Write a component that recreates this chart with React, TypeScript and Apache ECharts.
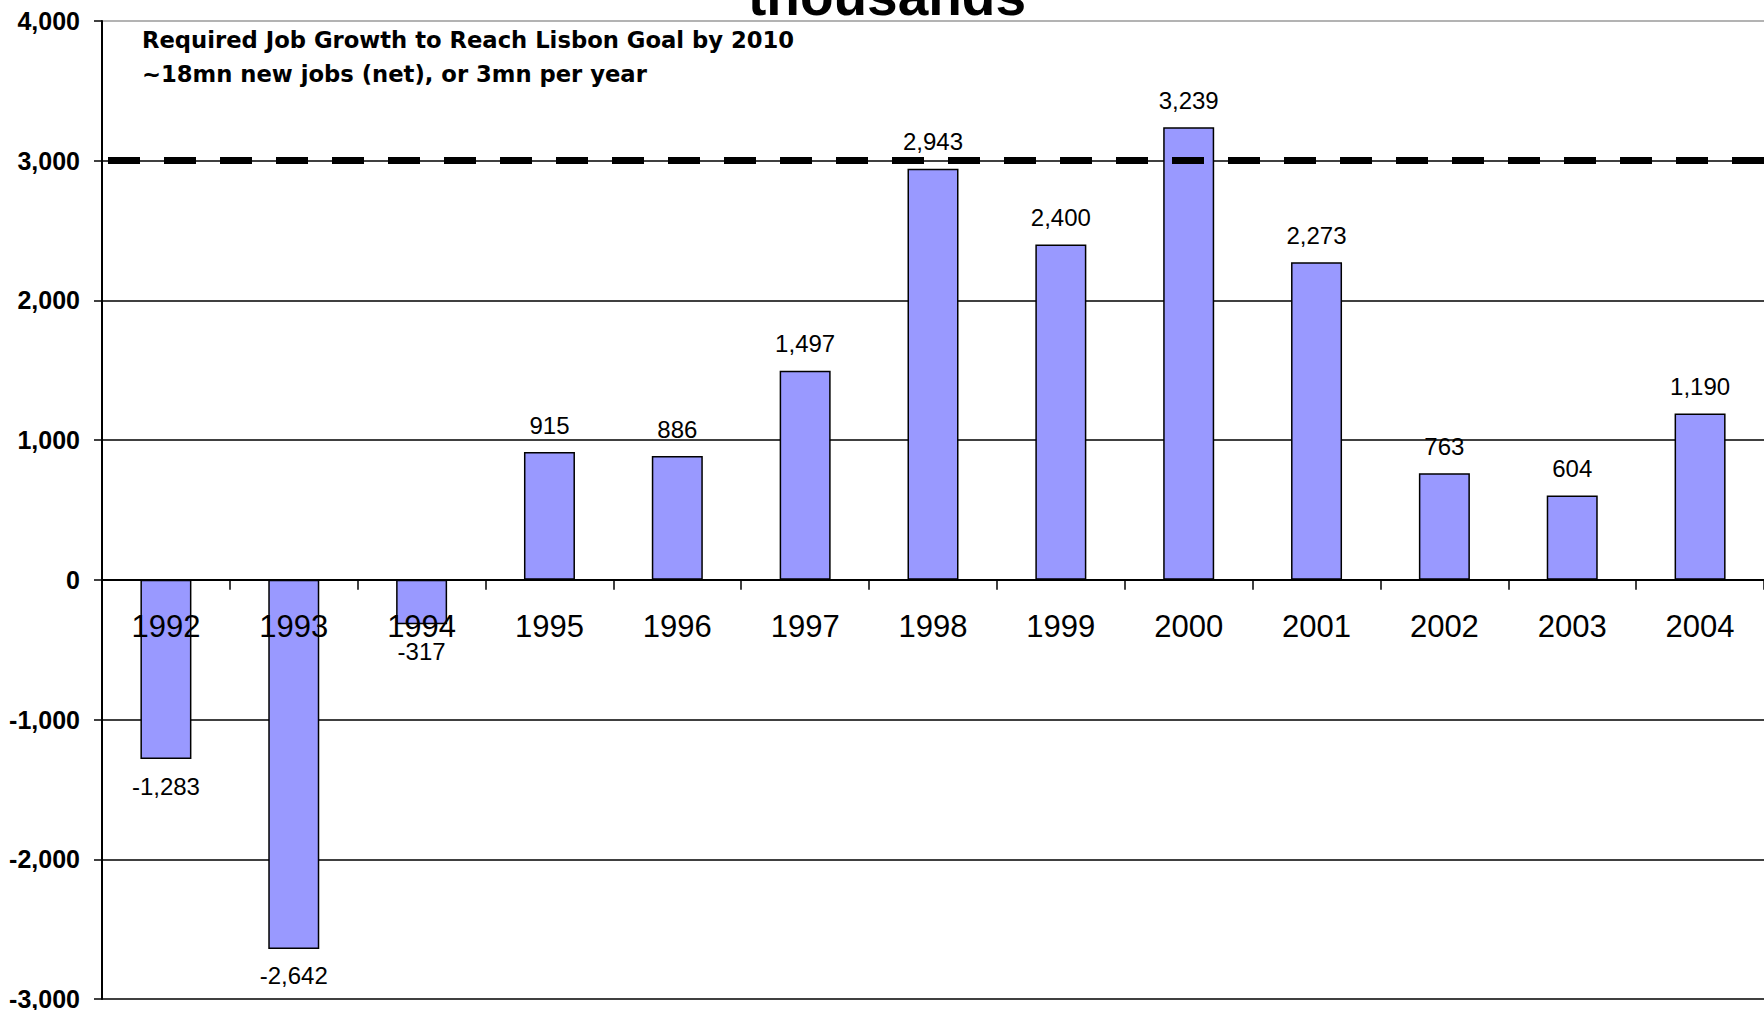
import React, { useEffect, useRef } from "react";
import * as echarts from "echarts";

const years = ["1992", "1993", "1994", "1995", "1996", "1997", "1998", "1999", "2000", "2001", "2002", "2003", "2004"];
const jobGrowth = [-1283, -2642, -317, 915, 886, 1497, 2943, 2400, 3239, 2273, 763, 604, 1190];
const lisbonTarget = 3000;
const yMin = -3000;
const yMax = 4000;
const titleText = "thousands";
const noteLines = ["Required Job Growth to Reach Lisbon Goal by 2010", "~18mn new jobs (net), or 3mn per year"];

const fmt = (v: number) => v.toLocaleString("en-US");

const GRID_TOP = 21;
const GRID_BOTTOM = 11;
const HEIGHT = 1010;

export default function App() {
  const ref = useRef<HTMLDivElement>(null);
  useEffect(() => {
    if (!ref.current) return;
    const chart = echarts.init(ref.current, undefined, { renderer: "svg" });
    const plotH = HEIGHT - GRID_TOP - GRID_BOTTOM;
    const zeroOffset = (plotH * (0 - yMin)) / (yMax - yMin);
    chart.setOption({
      animation: false,
      backgroundColor: "#ffffff",
      grid: { left: 102, right: 0, top: GRID_TOP, bottom: GRID_BOTTOM, containLabel: false, outerBoundsMode: "none" },
      graphic: [
        {
          type: "text",
          x: 887,
          y: 23,
          z: 10,
          style: {
            text: titleText,
            fontFamily: "Liberation Sans, Arial, sans-serif",
            fontWeight: "bold",
            fontSize: 55,
            fill: "#000",
            align: "center",
            verticalAlign: "bottom",
          },
        },
        {
          type: "text",
          x: 142,
          y: 23,
          z: 10,
          style: {
            text: noteLines.join("\n"),
            fontFamily: "DejaVu Sans, sans-serif",
            fontWeight: "bold",
            fontSize: 22.7,
            lineHeight: 34,
            fill: "#000",
            align: "left",
            verticalAlign: "top",
          },
        },
      ],
      xAxis: {
        type: "category",
        data: years,
        boundaryGap: true,
        position: "bottom",
        offset: -zeroOffset,
        axisLine: { show: true, onZero: false, lineStyle: { color: "#000", width: 2 } },
        axisTick: { show: true, inside: false, length: 10, lineStyle: { color: "#000", width: 1.5 } },
        axisLabel: {
          color: "#000",
          fontSize: 31,
          fontFamily: "Liberation Sans, Arial, sans-serif",
          margin: 31,
        },
        splitLine: { show: false },
        z: 6,
      },
      yAxis: {
        type: "value",
        min: yMin,
        max: yMax,
        interval: 1000,
        axisLine: { show: true, lineStyle: { color: "#000", width: 2 } },
        axisTick: { show: true, inside: false, length: 8, lineStyle: { color: "#000", width: 1.5 } },
        axisLabel: {
          color: "#000",
          fontSize: 25,
          fontWeight: "bold",
          fontFamily: "Liberation Sans, Arial, sans-serif",
          margin: 22,
          formatter: (v: number) => fmt(v),
        },
        splitLine: {
          show: true,
          lineStyle: {
            color: ["#000", "#000", "#000", "#000", "#000", "#000", "#000", "#9a9a9a"],
            width: 1.6,
          },
        },
      },
      series: [
        {
          type: "bar",
          barWidth: 51,
          data: jobGrowth.map((v) => ({
            value: v,
            label: { position: v < 0 ? "bottom" : "top" },
          })),
          itemStyle: { color: "#9999ff", borderColor: "#000", borderWidth: 1.5 },
          label: {
            show: true,
            color: "#000",
            fontSize: 24,
            fontFamily: "Liberation Sans, Arial, sans-serif",
            distance: 15,
            formatter: (p: any) => fmt(p.value),
          },
          markLine: {
            silent: true,
            symbol: "none",
            label: { show: false },
            lineStyle: { color: "#000", width: 7, type: [32, 24], dashOffset: 50 },
            data: [{ yAxis: lisbonTarget }],
          },
        },
      ],
    });
    return () => chart.dispose();
  }, []);
  return <div ref={ref} style={{ width: 1764, height: 1010, position: "absolute", left: 0, top: 0 }} />;
}
